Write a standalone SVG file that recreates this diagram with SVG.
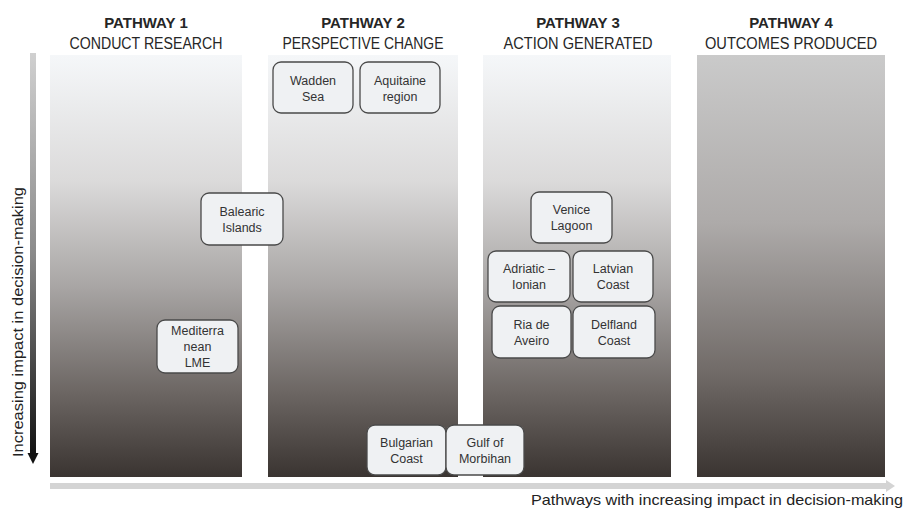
<svg xmlns="http://www.w3.org/2000/svg" width="906" height="513" viewBox="0 0 906 513">
<style>
.hdr{font-family:"Liberation Sans",Arial,sans-serif;fill:#262626;text-anchor:middle}
.b{font-weight:bold;font-size:15px}
.s{font-size:16px}
.box{fill:#eff1f3;stroke:#4a4a4a;stroke-width:1.3}
.lbl{font-family:"Liberation Sans",Arial,sans-serif;font-size:12.5px;fill:#333;text-anchor:middle}
.axis{font-family:"Liberation Sans",Arial,sans-serif;font-size:15px;fill:#222}
</style>
<defs>
<linearGradient id="gcol" x1="0" y1="0" x2="0" y2="1">
<stop offset="0" stop-color="#f5f7f9"/>
<stop offset="0.3" stop-color="#dbdada"/>
<stop offset="0.55" stop-color="#a8a5a4"/>
<stop offset="0.8" stop-color="#6c6663"/>
<stop offset="1" stop-color="#3a3431"/>
</linearGradient>
<linearGradient id="gcol4" x1="0" y1="0" x2="0" y2="1">
<stop offset="0" stop-color="#cacaca"/>
<stop offset="0.4" stop-color="#adaaa9"/>
<stop offset="0.75" stop-color="#716b68"/>
<stop offset="1" stop-color="#3a3431"/>
</linearGradient>
<linearGradient id="gv" x1="0" y1="0" x2="0" y2="1">
<stop offset="0" stop-color="#d0d0d0"/>
<stop offset="0.5" stop-color="#8a8a8a"/>
<stop offset="1" stop-color="#111"/>
</linearGradient>
</defs>
<rect width="906" height="513" fill="#ffffff"/>
<g id="columns">
<rect x="50" y="55" width="192" height="422" fill="url(#gcol)"/>
<rect x="268" y="55" width="190" height="422" fill="url(#gcol)"/>
<rect x="483" y="55" width="188" height="422" fill="url(#gcol)"/>
<rect x="697" y="55" width="188" height="422" fill="url(#gcol4)"/>
</g>
<g id="headers">
<text class="hdr b" x="146" y="28">PATHWAY 1</text>
<text class="hdr s" x="146" y="49" textLength="153" lengthAdjust="spacingAndGlyphs">CONDUCT RESEARCH</text>
<text class="hdr b" x="363" y="28">PATHWAY 2</text>
<text class="hdr s" x="363" y="49" textLength="161" lengthAdjust="spacingAndGlyphs">PERSPECTIVE CHANGE</text>
<text class="hdr b" x="578" y="28">PATHWAY 3</text>
<text class="hdr s" x="578" y="49" textLength="149" lengthAdjust="spacingAndGlyphs">ACTION GENERATED</text>
<text class="hdr b" x="791" y="28">PATHWAY 4</text>
<text class="hdr s" x="791" y="49" textLength="172" lengthAdjust="spacingAndGlyphs">OUTCOMES PRODUCED</text>
</g>
<g id="connectors">
<rect x="30" y="53" width="6" height="402" fill="url(#gv)"/>
<polygon points="27.5,453 38.5,453 33,464" fill="#111"/>
<rect x="50" y="483" width="838" height="6" fill="#d4d4d4"/>
<polygon points="886,480 895,486 886,492" fill="#d4d4d4"/>
</g>
<text class="axis" transform="translate(23,457) rotate(-90)" textLength="270" lengthAdjust="spacingAndGlyphs">Increasing impact in decision-making</text>
<text class="axis" x="903" y="505" text-anchor="end" textLength="372" lengthAdjust="spacingAndGlyphs">Pathways with increasing impact in decision-making</text>
<g id="wadden"><rect class="box" x="273" y="62" width="80" height="51" rx="8"/><text class="lbl" x="313" y="85">Wadden</text><text class="lbl" x="313" y="101">Sea</text></g>
<g id="aquitaine"><rect class="box" x="360" y="62" width="80" height="51" rx="8"/><text class="lbl" x="400" y="85">Aquitaine</text><text class="lbl" x="400" y="101">region</text></g>
<g id="balearic"><rect class="box" x="201" y="193" width="82" height="52" rx="8"/><text class="lbl" x="242" y="216">Balearic</text><text class="lbl" x="242" y="232">Islands</text></g>
<g id="mediterranean"><rect class="box" x="157" y="320" width="81" height="53" rx="8"/><text class="lbl" x="197.5" y="335">Mediterra</text><text class="lbl" x="197.5" y="351">nean</text><text class="lbl" x="197.5" y="367">LME</text></g>
<g id="venice"><rect class="box" x="531" y="192" width="81" height="51" rx="8"/><text class="lbl" x="571.5" y="214">Venice</text><text class="lbl" x="571.5" y="230">Lagoon</text></g>
<g id="adriatic"><rect class="box" x="488" y="251" width="82" height="51" rx="8"/><text class="lbl" x="529" y="273">Adriatic –</text><text class="lbl" x="529" y="289">Ionian</text></g>
<g id="latvian"><rect class="box" x="573" y="251" width="80" height="51" rx="8"/><text class="lbl" x="613" y="273">Latvian</text><text class="lbl" x="613" y="289">Coast</text></g>
<g id="ria"><rect class="box" x="492" y="306" width="79" height="52" rx="8"/><text class="lbl" x="531.5" y="329">Ria de</text><text class="lbl" x="531.5" y="345">Aveiro</text></g>
<g id="delfland"><rect class="box" x="573" y="306" width="82" height="52" rx="8"/><text class="lbl" x="614" y="329">Delfland</text><text class="lbl" x="614" y="345">Coast</text></g>
<g id="bulgarian"><rect class="box" x="367" y="425" width="79" height="50" rx="8"/><text class="lbl" x="406.5" y="447">Bulgarian</text><text class="lbl" x="406.5" y="463">Coast</text></g>
<g id="gulf"><rect class="box" x="446" y="425" width="78" height="50" rx="8"/><text class="lbl" x="485" y="447">Gulf of</text><text class="lbl" x="485" y="463">Morbihan</text></g>
</svg>
